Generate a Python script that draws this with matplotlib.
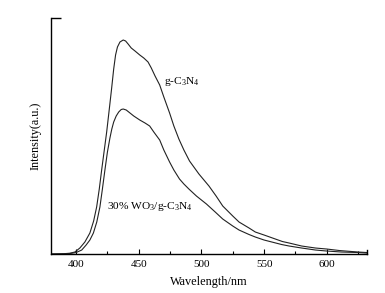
import matplotlib
matplotlib.use("Agg")
import matplotlib.pyplot as plt
from matplotlib.ticker import MultipleLocator

plt.rcParams["font.family"] = "Liberation Serif"
plt.rcParams["mathtext.fontset"] = "custom"
plt.rcParams["mathtext.rm"] = "Liberation Serif"
plt.rcParams["mathtext.it"] = "Liberation Serif:italic"

# PL spectra (intensity in arbitrary units)
wl_gcn = [380, 390, 395, 399, 403, 407, 411, 414, 416.4, 418.5, 420.4, 422.5,
          424.4, 426.5, 428.3, 430, 431.5, 433, 435, 437.6, 439.5, 441.5,
          444, 447, 450.8, 454, 457.4, 460, 463, 466.7, 470, 474.6, 478, 482,
          486, 490.5, 498, 506, 511.7, 517, 525, 530, 538, 543, 550, 564.6,
          570, 580, 591, 600, 610, 625, 632]
int_gcn = [0, 0.3, 0.8, 2, 6, 12, 21, 33, 47, 65, 84, 104,
           122, 145, 165, 185, 199, 207, 212, 214, 213, 210,
           206, 203, 199, 196, 192, 186, 178, 169, 157, 141, 128, 115,
           104, 93, 80, 68, 58, 48, 38, 32, 26, 22, 19, 12.5,
           11, 8, 6, 5, 3.5, 2, 1.5]

wl_wo3 = [380, 390, 395, 400, 404.5, 408, 411, 413.8, 416.5, 419, 421, 423,
          425, 427, 428.5, 430, 432, 434, 436, 437.6, 440, 443, 446, 450.8,
          455, 458.7, 462, 466.7, 470, 474.6, 478, 482.5, 486, 490, 496, 504,
          511, 517, 525, 530, 538, 543, 550, 564, 570, 580, 591, 600, 612,
          625, 632]
int_wo3 = [0, 0.2, 0.5, 1.5, 4, 9, 14, 21, 32, 47, 65, 84,
           102, 116, 125, 132, 138, 142, 144.5, 145, 144, 141, 138, 134,
           131, 128, 122, 114, 104, 92, 84, 75, 70, 65, 58, 50,
           42, 35, 28, 24, 19.5, 17, 14, 9.5, 8, 6, 4, 3, 2,
           1.5, 1]

x_ticks = [400, 450, 500, 550, 600]

fig = plt.figure(figsize=(3.85, 2.93), dpi=100)
ax = fig.add_axes([0.1325, 0.133, 0.8205, 0.8056])

ax.plot(wl_gcn, int_gcn, color="#222222", lw=0.8)
ax.plot(wl_wo3, int_wo3, color="#222222", lw=0.8)

ax.set_xlim(380, 632)
ax.set_ylim(0, 236)

ax.spines["top"].set_visible(False)
ax.spines["right"].set_visible(False)
for s in ("left", "bottom"):
    ax.spines[s].set_linewidth(1.0)

ax.set_xticks(x_ticks)
ax.xaxis.set_minor_locator(MultipleLocator(25))
ax.tick_params(axis="x", which="major", direction="in", length=3.5, width=0.8,
               labelsize=8, pad=4)
ax.tick_params(axis="x", which="minor", direction="in", length=2, width=0.8)
ax.set_yticks([236])
ax.set_yticklabels([])
ax.tick_params(axis="y", which="major", direction="in", length=7, width=1.0)
ax.tick_params(axis="y", which="minor", left=False)
# small end mark at the right end of the x axis
ax.axvline(632, ymin=0, ymax=0.018, color="black", lw=1.0, clip_on=False)

ax.set_xlabel("Wavelength/nm", fontsize=8.8, labelpad=5)
ax.set_ylabel("Intensity(a.u.)", fontsize=8.8, labelpad=3)

ax.text(470, 173, r"g-C$_3$N$_4$", fontsize=8.2, va="center", ha="left")
ax.text(425, 48, r"30% WO$_3$/g-C$_3$N$_4$", fontsize=8.2, va="center", ha="left")

fig.savefig("out.png", dpi=100)
